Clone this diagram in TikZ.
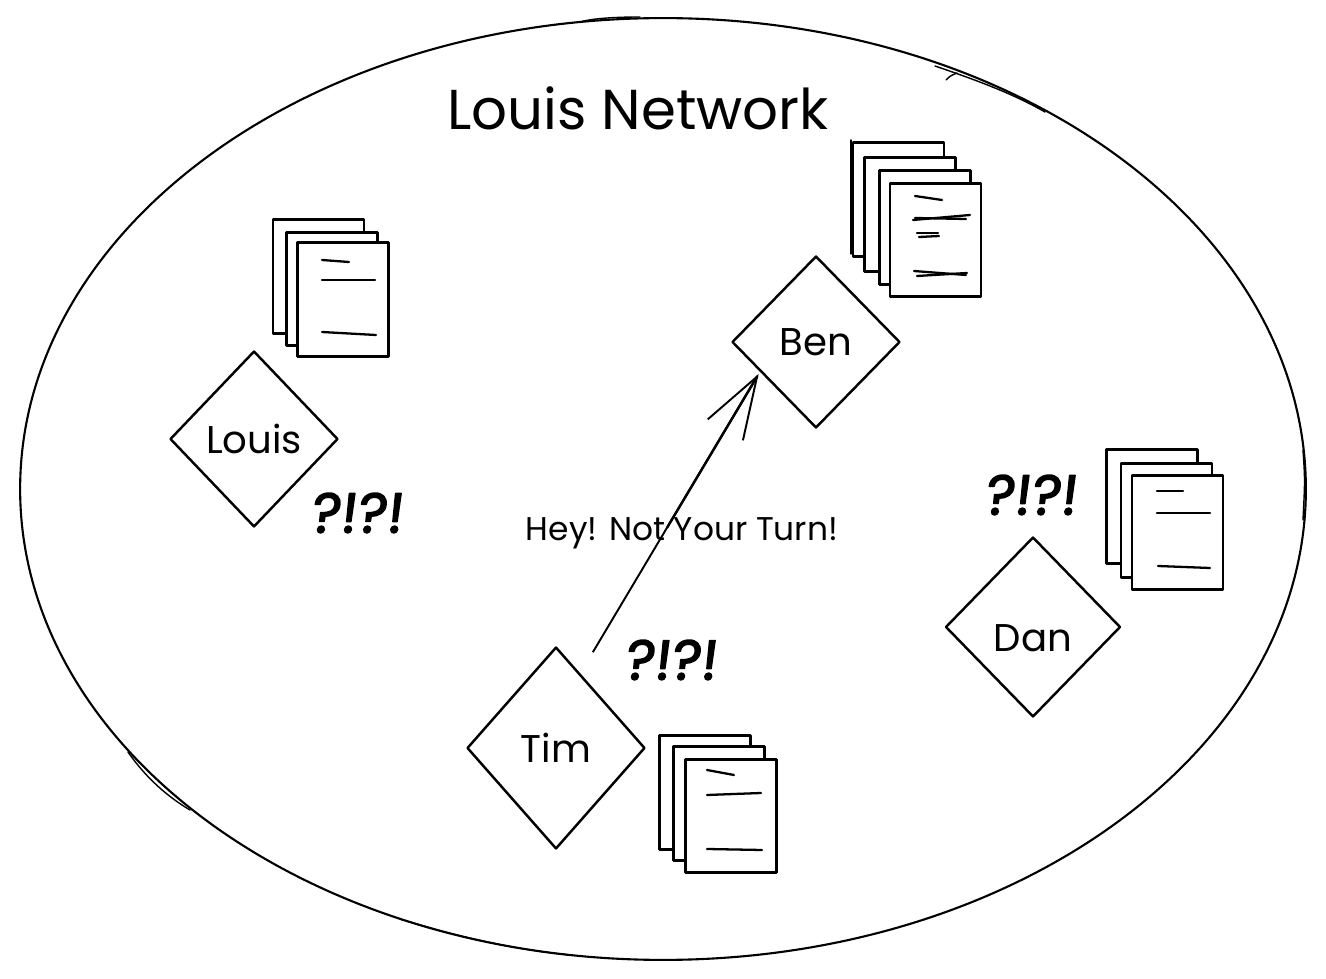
\documentclass[tikz,border=0pt]{standalone}
\usepackage{fontspec}
\setmainfont{Poppins}
\newfontfamily\puzzlefont{Poppins}[FakeBold=2.6,FakeSlant=0.12]
\usetikzlibrary{shapes.geometric, arrows.meta, positioning}

\begin{document}
\begin{tikzpicture}[
    x=0.02cm, y=-0.02cm,
    line join=round,
    peer/.style={diamond, draw, line width=1.4pt, inner sep=0pt, font=\fontsize{22}{26}\selectfont},
    sheet/.style={rectangle, draw, fill=white, line width=1.5pt, inner sep=0pt, minimum width=1.82cm, minimum height=2.27cm},
    scribble/.style={line width=1.3pt, line cap=round},
    redraw/.style={line width=0.8pt, line cap=round},
    puzzled/.style={font=\fontsize{32}{38}\puzzlefont}
]
    \useasboundingbox (0,0) rectangle (1326,979);

    % the network
    \node[ellipse, draw, line width=1.2pt, inner sep=0pt, minimum width=25.72cm, minimum height=18.84cm] (network) at (663,489) {};
    \draw[redraw] (935,66) .. controls (970,78) and (1010,92) .. (1045,112);
    \draw[redraw] (946,80) .. controls (950,76) .. (957,73);
    \draw[redraw] (1303,450) .. controls (1305,480) .. (1303,520);
    \draw[redraw] (128,752) .. controls (146,778) and (168,797) .. (190,810);
    \draw[redraw] (400,919) .. controls (455,936) and (510,949) .. (570,955);
    \draw[redraw] (580,22) .. controls (590,19) and (610,17) .. (640,17);
    \node[font=\fontsize{32}{36}\selectfont] (title) at (638,108) {Louis Network};

    % stacks of sheets
    \foreach \name/\cx/\cy in {la/318.5/276.5, lb/332/289, lc/343/299.5,
        ba/898.5/199.5, bb/910/214.5, bc/925/227.5, bd/935.5/240,
        da/1152/506.5, db/1166.5/520.5, dc/1177.5/532.5,
        ta/705/792.5, tb/719/803.5, tc/731/816}
        \node[sheet] (\name) at (\cx,\cy) {};
    \draw[redraw] (851,140) -- (851,254);

    \draw[scribble] (322,260) -- (349,262);
    \draw[scribble] (322,280) -- (375,280);
    \draw[scribble] (322,332) -- (376,335);

    \draw[scribble] (915,196) -- (942,200);
    \draw[scribble] (913,220) -- (970,215);
    \draw[scribble] (915,218) -- (966,219);
    \draw[scribble] (917,233) -- (938,233);
    \draw[scribble] (919,237) -- (939,236);
    \draw[scribble] (914,271) -- (966,275);
    \draw[scribble] (917,276) -- (967,273);

    \draw[scribble] (1157,491) -- (1183,491);
    \draw[scribble] (1157,513) -- (1210,513);
    \draw[scribble] (1158,566) -- (1210,568);

    \draw[scribble] (707,770) -- (734,775);
    \draw[scribble] (707,795) -- (761,793);
    \draw[scribble] (707,849) -- (762,850);

    % peers
    \node[peer, minimum width=3.36cm, minimum height=3.52cm] (louis) at (254,439) {Louis};
    \node[peer, minimum width=3.36cm, minimum height=3.44cm] (ben) at (816,342) {Ben};
    \node[peer, minimum width=3.56cm, minimum height=4.04cm] (tim) at (556,748) {Tim};
    \node[peer, minimum width=3.5cm, minimum height=3.6cm] (dan) at (1033,627) {\rule{0pt}{1cm}Dan};

    \node[puzzled] (louisq) at (356,513) {?!?!};
    \node[puzzled] (danq) at (1030,495) {?!?!};
    \node[puzzled] (timq) at (670,660) {?!?!};

    \draw[-{Straight Barb[length=1.24cm, width=0.82cm, line width=1.1pt]}, line width=1.1pt, shorten <=0.49cm, shorten >=0.05cm] (tim.72.6) -- (ben.208.2);
    \draw[line width=1.4pt, shorten <=3.4cm, shorten >=0.1cm] (tim.72.6) -- (ben.208.2);
    \node[font=\fontsize{18.7}{22}\selectfont] (turn) at (682,533) {Hey! Not Your Turn!};
\end{tikzpicture}
\end{document}
